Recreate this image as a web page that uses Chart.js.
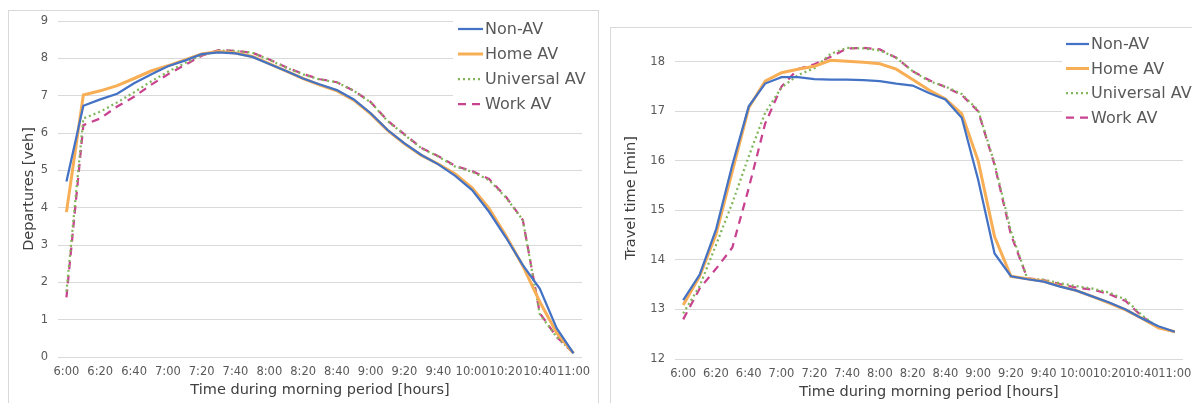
<!DOCTYPE html>
<html lang="en">
<head>
<meta charset="UTF-8">
<script src="https://cdn.jsdelivr.net/npm/chart.js"></script>
<style>
    body, html { margin: 0; padding: 0; background: #fff; width: 1192px; height: 403px; overflow: hidden; position: relative; }
    .frame { position: absolute; border: 1px solid #d9d9d9; box-sizing: border-box; }
    canvas { position: absolute; }
</style>
</head>
<body>
<div class="frame" style="left:8px; top:10px; width:591px; height:430px;"></div>
<div class="frame" style="left:610px; top:27px; width:620px; height:430px;"></div>
<canvas id="depChart" width="590" height="393" style="left:8px; top:10px;"></canvas>
<canvas id="ttChart" width="582" height="376" style="left:610px; top:27px;"></canvas>
<script>
// time of day, every 10 minutes (labels shown every 20)
const times = ['6:00','6:10','6:20','6:30','6:40','6:50','7:00','7:10','7:20','7:30','7:40','7:50',
    '8:00','8:10','8:20','8:30','8:40','8:50','9:00','9:10','9:20','9:30','9:40','9:50',
    '10:00','10:10','10:20','10:30','10:40','10:50','11:00'];
const seriesNames = ['Non-AV', 'Home AV', 'Universal AV', 'Work AV'];

// departures [veh]
const depNonAV = [4.70, 6.73, 6.90, 7.05, 7.33, 7.57, 7.79, 7.94, 8.11, 8.16, 8.13, 8.04, 7.85, 7.66, 7.46, 7.30,
    7.15, 6.90, 6.53, 6.08, 5.72, 5.41, 5.16, 4.85, 4.47, 3.89, 3.20, 2.46, 1.83, 0.77, 0.10];
const depHomeAV = [3.88, 7.02, 7.13, 7.27, 7.46, 7.66, 7.80, 7.96, 8.12, 8.18, 8.14, 8.05, 7.86, 7.66, 7.46, 7.28,
    7.13, 6.88, 6.51, 6.07, 5.71, 5.40, 5.17, 4.90, 4.53, 3.98, 3.25, 2.44, 1.48, 0.65, 0.10];
const depUniversalAV = [1.75, 6.39, 6.57, 6.82, 7.09, 7.38, 7.64, 7.87, 8.09, 8.21, 8.20, 8.15, 7.96, 7.75, 7.57, 7.43,
    7.36, 7.13, 6.82, 6.32, 5.95, 5.59, 5.37, 5.10, 4.96, 4.74, 4.27, 3.67, 1.15, 0.54, 0.10];
const depWorkAV = [1.60, 6.21, 6.39, 6.71, 6.97, 7.29, 7.57, 7.82, 8.07, 8.22, 8.20, 8.15, 7.97, 7.76, 7.58, 7.44,
    7.36, 7.13, 6.83, 6.33, 5.96, 5.60, 5.38, 5.12, 4.98, 4.77, 4.29, 3.67, 1.18, 0.54, 0.10];

// travel time [min]
const ttNonAV = [13.19, 13.70, 14.61, 15.92, 17.10, 17.56, 17.69, 17.69, 17.65, 17.64, 17.64, 17.63, 17.61, 17.56, 17.52, 17.37,
    17.24, 16.87, 15.62, 14.13, 13.67, 13.61, 13.56, 13.46, 13.38, 13.26, 13.14, 13.00, 12.82, 12.66, 12.55];
const ttHomeAV = [13.09, 13.67, 14.51, 15.79, 17.07, 17.61, 17.78, 17.85, 17.91, 18.03, 18.01, 17.99, 17.96, 17.85, 17.64, 17.43,
    17.25, 16.95, 16.00, 14.47, 13.67, 13.62, 13.57, 13.47, 13.38, 13.26, 13.13, 12.99, 12.82, 12.63, 12.55];
const ttUniversalAV = [12.92, 13.47, 14.30, 15.15, 16.09, 16.97, 17.48, 17.73, 17.87, 18.16, 18.28, 18.27, 18.23, 18.08, 17.81, 17.61,
    17.50, 17.35, 17.02, 15.95, 14.58, 13.62, 13.60, 13.53, 13.47, 13.42, 13.34, 13.20, 12.88, 12.64, 12.55];
const ttWorkAV = [12.80, 13.42, 13.82, 14.25, 15.45, 16.75, 17.50, 17.85, 17.95, 18.10, 18.27, 18.28, 18.25, 18.08, 17.81, 17.63,
    17.49, 17.33, 17.00, 15.92, 14.51, 13.63, 13.59, 13.51, 13.44, 13.40, 13.31, 13.17, 12.86, 12.63, 12.55];

const FONT = 'DejaVu Sans';
const TEXT = '#595959';
const GRID = '#d9d9d9';

const lineStyles = [
    { borderColor: '#4472C4', borderWidth: 2.25, borderDash: [] },
    { borderColor: '#F7AE55', borderWidth: 3, borderDash: [] },
    { borderColor: '#80B55A', borderWidth: 2.25, borderDash: [2, 3] },
    { borderColor: '#C9428F', borderWidth: 2.25, borderDash: [8, 6] }
];

function makeDatasets(arrays) {
    return arrays.map((vals, i) => ({
        label: seriesNames[i],
        data: vals,
        borderColor: lineStyles[i].borderColor,
        borderWidth: lineStyles[i].borderWidth,
        borderDash: lineStyles[i].borderDash,
        pointRadius: 0,
        tension: 0,
        fill: false
    }));
}

// legend drawn inside the chart, with white box over the gridlines
const insideLegend = {
    id: 'insideLegend',
    afterDraw(chart, args, opts) {
        const ctx = chart.ctx;
        ctx.save();
        ctx.fillStyle = '#fff';
        ctx.fillRect(opts.boxLeft, opts.boxTop, chart.width - 2 - opts.boxLeft, opts.boxBottom - opts.boxTop);
        ctx.font = opts.fontSize + 'px "' + FONT + '"';
        ctx.textBaseline = 'middle';
        chart.data.datasets.forEach((ds, i) => {
            const y = opts.y + i * opts.rowH;
            ctx.strokeStyle = ds.borderColor;
            ctx.lineWidth = ds.borderWidth;
            ctx.setLineDash(ds.borderDash || []);
            ctx.beginPath();
            ctx.moveTo(opts.x, y);
            ctx.lineTo(opts.x + opts.lineLen, y);
            ctx.stroke();
            ctx.setLineDash([]);
            ctx.fillStyle = TEXT;
            ctx.fillText(ds.label, opts.x + opts.lineLen + 2, y + 1);
        });
        ctx.restore();
    }
};

function buildChart(canvasId, arrays, yCfg, layout) {
    new Chart(document.getElementById(canvasId), {
        type: 'line',
        data: { labels: times, datasets: makeDatasets(arrays) },
        plugins: [insideLegend],
        options: {
            responsive: false,
            animation: false,
            devicePixelRatio: 1,
            layout: { padding: layout.padding },
            plugins: {
                legend: { display: false },
                tooltip: { enabled: false },
                insideLegend: layout.legend
            },
            scales: {
                x: {
                    type: 'category',
                    offset: true,
                    grid: { display: false, drawTicks: false },
                    border: { display: false },
                    ticks: {
                        autoSkip: false, maxRotation: 0, minRotation: 0, padding: 8,
                        color: TEXT, font: { family: FONT, size: 11.5 },
                        callback: function (v, i) { return i % 2 ? '' : this.getLabelForValue(v); }
                    },
                    title: {
                        display: true, text: 'Time during morning period [hours]',
                        color: '#404040', font: { family: FONT, size: 14.5 },
                        padding: { top: 0, bottom: layout.xTitlePad }
                    },
                    afterFit: s => { s.height = layout.xHeight; s.paddingLeft = 0; s.paddingRight = 0; }
                },
                y: {
                    min: yCfg.min, max: yCfg.max,
                    grid: { color: GRID, lineWidth: 1, drawTicks: false },
                    border: { display: false },
                    ticks: { stepSize: 1, padding: 10, color: TEXT, font: { family: FONT, size: 11.5 } },
                    afterBuildTicks: s => { s.ticks = s.ticks.filter(t => Number.isInteger(t.value)); },
                    title: {
                        display: true, text: yCfg.title,
                        color: '#404040', font: { family: FONT, size: 14.5 },
                        padding: { top: 13, bottom: 0 }
                    },
                    afterFit: s => { s.width = layout.yWidth; s.paddingTop = 0; s.paddingBottom = 0; }
                }
            }
        }
    });
}

buildChart('depChart', [depNonAV, depHomeAV, depUniversalAV, depWorkAV],
    { min: 0, max: 9, title: 'Departures [veh]' },
    {
        padding: { left: 0, right: 16, top: 11, bottom: 0 },
        xHeight: 46, yWidth: 50, xTitlePad: 4,
        legend: { boxLeft: 445, boxTop: 5, boxBottom: 107, x: 450, y: 19, rowH: 25, lineLen: 25, fontSize: 16 }
    });

buildChart('ttChart', [ttNonAV, ttHomeAV, ttUniversalAV, ttWorkAV],
    { min: 12, max: 18.5, title: 'Travel time [min]' },
    {
        padding: { left: 0, right: 9, top: 10, bottom: 0 },
        xHeight: 44, yWidth: 65, xTitlePad: 2,
        legend: { boxLeft: 452, boxTop: 3, boxBottom: 101, x: 456, y: 17, rowH: 24.5, lineLen: 23, fontSize: 16 }
    });
</script>
</body>
</html>
